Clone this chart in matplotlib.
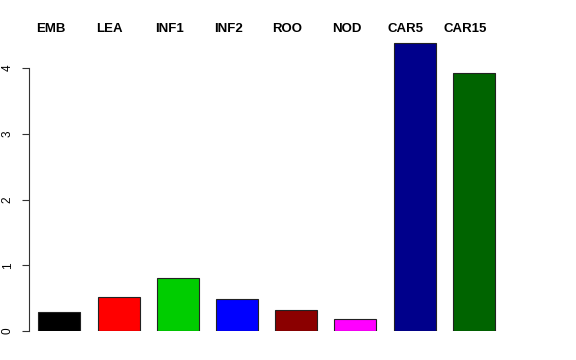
import matplotlib
matplotlib.use("Agg")
import matplotlib.pyplot as plt
import numpy as np

plt.rcParams['font.family'] = ['Liberation Sans', 'DejaVu Sans']

tissues = ['EMB', 'LEA', 'INF1', 'INF2', 'ROO', 'NOD', 'CAR5', 'CAR15']
values = [0.29, 0.52, 0.80, 0.49, 0.32, 0.18, 4.38, 3.92]
colors = ['black', 'red', '#00CD00', 'blue', '#8B0000', 'magenta', '#00008B', '#006400']
yticks = [0, 1, 2, 3, 4]

W, H = 576, 360
fig = plt.figure(figsize=(W / 100, H / 100), dpi=100)
# axes placed in pixel terms: spine at x=29, zero line at y=331
left_px, right_px, top_px, bot_px = 29, 547, 40, 331
ax = fig.add_axes([left_px / W, (H - bot_px) / H,
                   (right_px - left_px) / W, (bot_px - top_px) / H])

x = np.arange(len(tissues))
px_per_bar = 59.2
x0_px = 59.3
ax.bar(x, values, width=42 / px_per_bar, color=colors, edgecolor='#222222', linewidth=0.8)

ax.set_xlim((left_px - x0_px) / px_per_bar, (right_px - x0_px) / px_per_bar)
px_per_unit = 65.75
ax.set_ylim(0, (bot_px - top_px) / px_per_unit)

for xi, name in zip(x, tissues):
    ax.text(xi - 0.145, (bot_px - 29) / px_per_unit, name, ha='center', va='center',
            fontsize=9.5, fontweight='bold', clip_on=False)

for s in ['top', 'right', 'bottom']:
    ax.spines[s].set_visible(False)
ax.spines['left'].set_bounds(0, 4)
ax.spines['left'].set_color('#333333')
ax.spines['left'].set_linewidth(0.8)
ax.set_xticks([])
ax.set_yticks(yticks)
ax.set_yticklabels([str(t) for t in yticks], rotation=90, va='center', fontsize=8.5)
ax.tick_params(axis='y', length=5, width=0.8, color='#333333', pad=6)

fig.savefig('out.png', dpi=100)
